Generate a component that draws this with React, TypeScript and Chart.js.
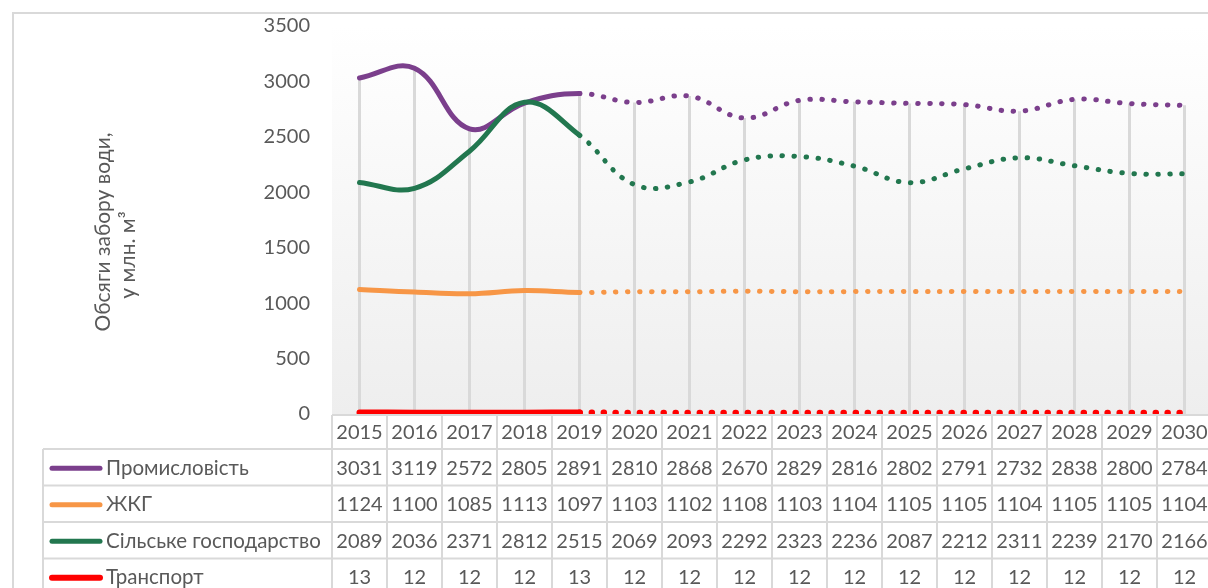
import React, { useEffect, useRef } from 'react';
import { Chart, registerables } from 'chart.js';

Chart.register(...registerables);

const years = ['2015', '2016', '2017', '2018', '2019', '2020', '2021', '2022', '2023', '2024', '2025', '2026', '2027', '2028', '2029', '2030'];
const industry = [3031, 3119, 2572, 2805, 2891, 2810, 2868, 2670, 2829, 2816, 2802, 2791, 2732, 2838, 2800, 2784];
const housing = [1124, 1100, 1085, 1113, 1097, 1103, 1102, 1108, 1103, 1104, 1105, 1105, 1104, 1105, 1105, 1104];
const agriculture = [2089, 2036, 2371, 2812, 2515, 2069, 2093, 2292, 2323, 2236, 2087, 2212, 2311, 2239, 2170, 2166];
const transport = [13, 12, 12, 12, 13, 12, 12, 12, 12, 12, 12, 12, 12, 12, 12, 12];
const seriesNames = ['Промисловість', 'ЖКГ', 'Сільське господарство', 'Транспорт'];
const seriesColors = ['#7B3F8C', '#F79646', '#22774F', '#FF0000'];
const yTitle = ['Обсяги забору води,', 'у млн. м³'];
const yMin = 0;
const yMax = 3500;
const yStep = 500;
const lastActualIndex = 4;

const W = 1212;
const H = 588;
const FONT = 'Lato, "Open Sans", sans-serif';
const TXT = '#595959';
const GRID = '#d9d9d9';

const tablePlugin = {
  id: 'excelTable',
  beforeDraw(chart: any) {
    const ctx = chart.ctx;
    const ca = chart.chartArea;
    ctx.save();
    ctx.fillStyle = '#ffffff';
    ctx.fillRect(0, 0, chart.width, chart.height);
    // outer frame
    ctx.strokeStyle = GRID;
    ctx.lineWidth = 2;
    ctx.beginPath();
    ctx.moveTo(13, chart.height + 5);
    ctx.lineTo(13, 13);
    ctx.lineTo(chart.width + 5, 13);
    ctx.stroke();
    // plot area gradient
    const g = ctx.createLinearGradient(0, ca.top, 0, ca.bottom);
    g.addColorStop(0, '#ffffff');
    g.addColorStop(1, '#eeeeee');
    ctx.fillStyle = g;
    ctx.fillRect(ca.left, ca.top, ca.right - ca.left, ca.bottom - ca.top);
    ctx.restore();
  },
  beforeDatasetsDraw(chart: any) {
    const ctx = chart.ctx;
    const xs = chart.scales.x;
    const ys = chart.scales.y;
    ctx.save();
    ctx.strokeStyle = GRID;
    ctx.lineWidth = 3;
    years.forEach((_, i) => {
      const mx = Math.max(industry[i], housing[i], agriculture[i], transport[i]);
      const x = xs.getPixelForValue(i);
      ctx.beginPath();
      ctx.moveTo(x, ys.getPixelForValue(mx));
      ctx.lineTo(x, ys.getPixelForValue(0));
      ctx.stroke();
    });
    ctx.restore();
  },
  afterDraw(chart: any) {
    const ctx = chart.ctx;
    const xs = chart.scales.x;
    const ca = chart.chartArea;
    const colW = xs.getPixelForValue(1) - xs.getPixelForValue(0);
    const headerTop = ca.bottom + 1;
    const rowTops = [headerTop, 449, 485.5, 522, 558.5, 595];
    const tableLeft = 43;
    const data = [industry, housing, agriculture, transport];
    ctx.save();
    ctx.strokeStyle = GRID;
    ctx.lineWidth = 2;
    // horizontal lines
    rowTops.forEach((y, r) => {
      ctx.beginPath();
      ctx.moveTo(r === 0 ? ca.left : tableLeft, y);
      ctx.lineTo(chart.width + 5, y);
      ctx.stroke();
    });
    // vertical lines
    for (let i = 0; i <= years.length; i++) {
      const x = xs.getPixelForValue(0) - colW / 2 + i * colW;
      ctx.beginPath();
      ctx.moveTo(x, headerTop);
      ctx.lineTo(x, chart.height + 5);
      ctx.stroke();
    }
    ctx.beginPath();
    ctx.moveTo(tableLeft, rowTops[1]);
    ctx.lineTo(tableLeft, chart.height + 5);
    ctx.stroke();

    ctx.fillStyle = TXT;
    ctx.font = '20px ' + FONT;
    ctx.textAlign = 'center';
    ctx.textBaseline = 'middle';
    years.forEach((yr, i) => {
      ctx.fillText(yr, xs.getPixelForValue(i), (rowTops[0] + rowTops[1]) / 2 + 1);
    });
    data.forEach((arr, r) => {
      const cy = (rowTops[r + 1] + rowTops[r + 2]) / 2 + 1;
      arr.forEach((v, i) => {
        ctx.fillText(String(v), xs.getPixelForValue(i), cy);
      });
      // legend key
      ctx.save();
      ctx.strokeStyle = seriesColors[r];
      ctx.lineWidth = r === 3 ? 6 : 5;
      ctx.lineCap = 'round';
      ctx.beginPath();
      ctx.moveTo(52, cy);
      ctx.lineTo(100, cy);
      ctx.stroke();
      ctx.restore();
      ctx.textAlign = 'left';
      ctx.font = '20.5px ' + FONT;
      ctx.fillText(seriesNames[r], 106, cy);
      ctx.font = '20px ' + FONT;
      ctx.textAlign = 'center';
    });

    // y axis title
    ctx.font = '21px ' + FONT;
    ctx.save();
    ctx.translate(103, 232);
    ctx.rotate(-Math.PI / 2);
    ctx.fillText(yTitle[0], 0, 0);
    ctx.restore();
    ctx.save();
    ctx.translate(128, 255);
    ctx.rotate(-Math.PI / 2);
    ctx.fillText(yTitle[1], 0, 0);
    ctx.restore();
    ctx.restore();
  },
};

function makeDataset(label: string, values: number[], color: string, width: number) {
  return {
    label,
    data: values,
    borderColor: color,
    backgroundColor: color,
    borderWidth: width,
    borderCapStyle: 'round',
    borderJoinStyle: 'round',
    pointRadius: 0,
    pointHoverRadius: 0,
    tension: 0.4,
    fill: false,
    segment: {
      borderDash: (c: any) => (c.p0DataIndex >= lastActualIndex ? [0.5, 11.5] : undefined),
    },
  };
}

export default function App() {
  const ref = useRef<HTMLCanvasElement | null>(null);
  useEffect(() => {
    let chart: any = null;
    let cancelled = false;
    const build = () => {
      if (cancelled || !ref.current) return;
      Chart.defaults.font.family = FONT;
      chart = new Chart(ref.current, {
        type: 'line',
        data: {
          labels: years,
          datasets: [
            makeDataset(seriesNames[3], transport, seriesColors[3], 6),
            makeDataset(seriesNames[1], housing, seriesColors[1], 5),
            makeDataset(seriesNames[2], agriculture, seriesColors[2], 5),
            makeDataset(seriesNames[0], industry, seriesColors[0], 5),
          ] as any,
        },
        options: {
          responsive: false,
          animation: false,
          devicePixelRatio: 1,
          layout: { padding: { top: 26, bottom: H - 414, left: 0, right: 0 } },
          plugins: { legend: { display: false }, tooltip: { enabled: false } },
          scales: {
            x: {
              display: false,
              offset: true,
              grid: { display: false },
            },
            y: {
              min: yMin,
              max: yMax,
              grid: { display: false, drawTicks: false },
              border: { display: false },
              ticks: {
                stepSize: yStep,
                color: TXT,
                font: { size: 20, family: FONT },
                padding: 22,
                callback: (v: any) => String(v),
              },
              afterFit: (s: any) => {
                s.width = 332;
                s.paddingTop = 0;
                s.paddingBottom = 0;
              },
            },
          },
        },
        plugins: [tablePlugin],
      } as any);
    };
    const fonts: any = (document as any).fonts;
    if (fonts && fonts.load) {
      Promise.all([fonts.load('20px Lato'), fonts.load('21px Lato')]).then(build, build);
    } else build();
    return () => {
      cancelled = true;
      if (chart) chart.destroy();
    };
  }, []);
  return (
    <div style={{ position: 'fixed', left: 0, top: 0, width: 1208, height: 588, overflow: 'hidden', background: '#fff' }}>
      <canvas ref={ref} width={W} height={H} style={{ width: W, height: H, display: 'block' }} />
    </div>
  );
}
